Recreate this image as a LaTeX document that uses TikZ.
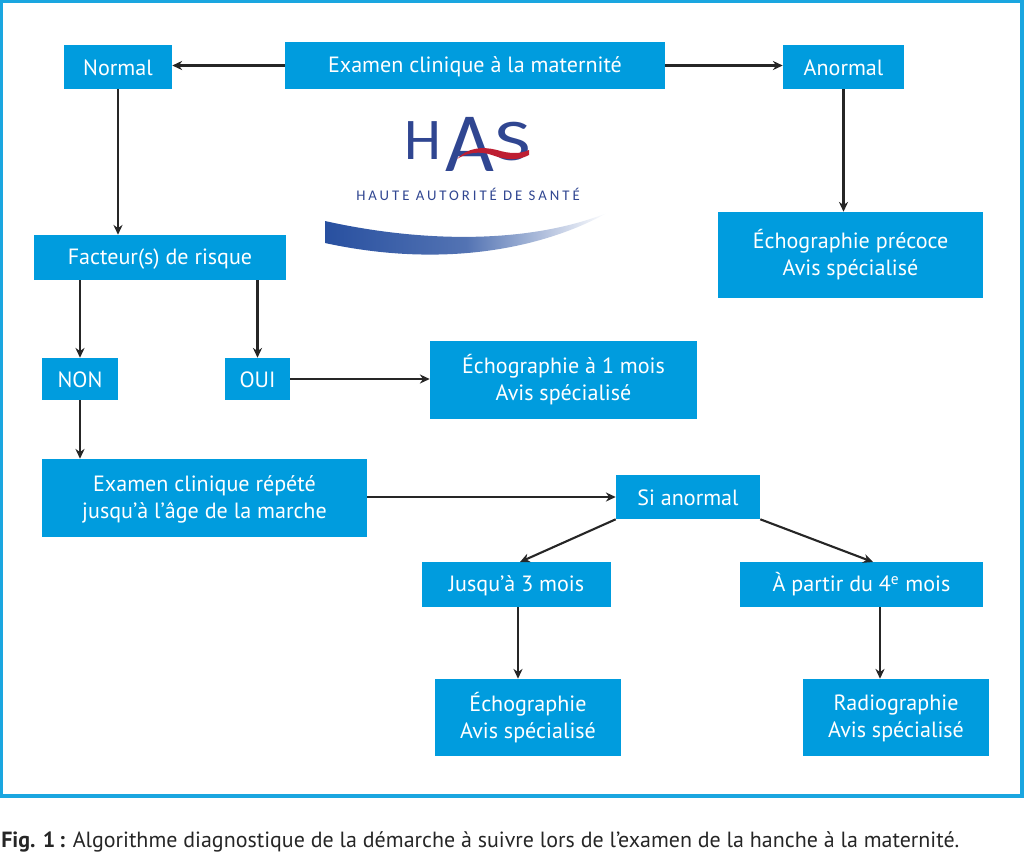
\documentclass[tikz,border=0pt]{standalone}
\usepackage{fontspec}
\setmainfont{PT Sans}
\newfontfamily\logofont{Carlito}
\usetikzlibrary{arrows.meta}
\definecolor{bleuhas}{RGB}{0,156,222}
\definecolor{bleucadre}{RGB}{26,166,224}
\definecolor{bleulogo}{RGB}{48,70,145}
\definecolor{bleuvague}{RGB}{40,80,160}
\definecolor{rougelogo}{RGB}{190,30,50}
\newcommand{\etai}{\rule[-1.6pt]{0pt}{14.6pt}}
\newcommand{\etaii}{\rule[-3.6pt]{0pt}{36pt}}
\begin{document}
\begin{tikzpicture}[x=0.025cm,y=-0.025cm,
	boite/.style={fill=bleuhas,text=white,inner sep=0pt,align=center,font=\fontsize{15.7}{19.2}\selectfont,
		execute at begin node=\etai,execute at end node=\etai},
	boitedouble/.style={boite,execute at begin node=\etaii},
	fleche/.style={-{Stealth[length=7pt,width=6.5pt]},line width=1.5pt,black!85},
	lettre/.style={bleulogo,inner sep=0pt,transform shape}]
	\useasboundingbox (0,0) rectangle (1024,851);
	\draw[bleucadre,line width=2.2pt] (1.5,1.5) rectangle (1022,796);
	% boites
	\node[boite,minimum width=9.5cm,minimum height=1.175cm] (examen) at (475,65.5) {Examen clinique à la maternité};
	\node[boite,minimum width=2.7cm,minimum height=1.1cm] (normal) at (118,67) {Normal};
	\node[boite,minimum width=3.025cm,minimum height=1.1cm] (anormal) at (843.5,67) {Anormal};
	\node[boite,minimum width=6.3cm,minimum height=1.125cm] (risque) at (160,257.5) {Facteur(s) de risque};
	\node[boitedouble,minimum width=6.625cm,minimum height=2.15cm] (precoce) at (850.5,255) {Échographie précoce\\Avis spécialisé};
	\node[boite,minimum width=1.9cm,minimum height=1.05cm] (non) at (80,379) {NON};
	\node[boite,minimum width=1.625cm,minimum height=1.05cm] (oui) at (257.5,379) {OUI};
	\node[boitedouble,minimum width=6.675cm,minimum height=1.95cm] (unmois) at (563.5,380) {Échographie à 1 mois\\Avis spécialisé};
	\node[boitedouble,minimum width=8.125cm,minimum height=1.95cm] (repete) at (204.5,498) {Examen clinique répété\\jusqu’à l’âge de la marche};
	\node[boite,minimum width=3.6cm,minimum height=1.1cm] (si) at (688,497) {Si anormal};
	\node[boite,minimum width=4.725cm,minimum height=1.125cm] (trois) at (516.5,584.5) {Jusqu’à 3 mois};
	\node[boite,minimum width=6.075cm,minimum height=1.125cm] (quatre) at (861.5,584.5) {À partir du 4\textsuperscript{e} mois};
	\node[boitedouble,minimum width=4.65cm,minimum height=1.925cm] (echo) at (528,717.5) {Échographie\\Avis spécialisé};
	\node[boitedouble,minimum width=4.65cm,minimum height=1.925cm] (radio) at (896,717.5) {Radiographie\\Avis spécialisé};
	% points d'appui des fleches
	\coordinate (vers3) at (520,562);
	\coordinate (vers4) at (873,562);
	\coordinate (depart3) at (518,607);
	\coordinate (depart4) at (880,607);
	% fleches
	\draw[fleche] (examen.west) -- (examen.west -| normal.east);
	\draw[fleche] (examen.east) -- (examen.east -| anormal.west);
	\draw[fleche] (normal) -- (normal |- risque.north);
	\draw[fleche] (anormal) -- (anormal |- precoce.north);
	\draw[fleche] (non |- risque.south) -- (non);
	\draw[fleche] (oui |- risque.south) -- (oui);
	\draw[fleche] (oui) -- (oui -| unmois.west);
	\draw[fleche] (non) -- (non |- repete.north);
	\draw[fleche] (si -| repete.east) -- (si);
	\draw[fleche] (si.south west) -- (vers3);
	\draw[fleche] (si.south east) -- (vers4);
	\draw[fleche] (depart3) -- (depart3 |- echo.north);
	\draw[fleche] (depart4) -- (depart4 |- radio.north);
	% logo
	\node[lettre,font=\logofont\fontsize{42}{42}\selectfont] (lettreH) at (423,141) {H};
	\node[lettre,font=\logofont\fontsize{60}{60}\selectfont] (lettreA) at (470,144) {A};
	\node[lettre,xscale=1.35,font=\logofont\fontsize{42}{42}\selectfont] (lettreS) at (513,142) {S};
	\fill[rougelogo] (457,159) .. controls (467,148) and (482,146) .. (497,150) .. controls (510,154) and (520,154) .. (529,150) -- (529,155) .. controls (518,161) and (505,160) .. (492,155) .. controls (480,151) and (468,152) .. (457,159) -- cycle;
	\node[bleulogo,inner sep=0pt,font=\logofont\fontsize{10.5}{12}\selectfont\addfontfeatures{LetterSpace=20}] (sante) at (468,194) {HAUTE AUTORITÉ DE SANTÉ};
	\shade[left color=bleuvague,right color=white,middle color=bleuvague!80!white] (325,221) .. controls (410,240) and (520,247) .. (607,213) .. controls (540,250) and (440,268) .. (325,243) -- cycle;
	% legende
	\node[anchor=base west,inner sep=0pt,text=black!85,font=\fontsize{15.63}{18}\selectfont] (legende) at (1,847) {\textbf{Fig. 1\,:} Algorithme diagnostique de la démarche à suivre lors de l’examen de la hanche à la maternité.};
\end{tikzpicture}
\end{document}
